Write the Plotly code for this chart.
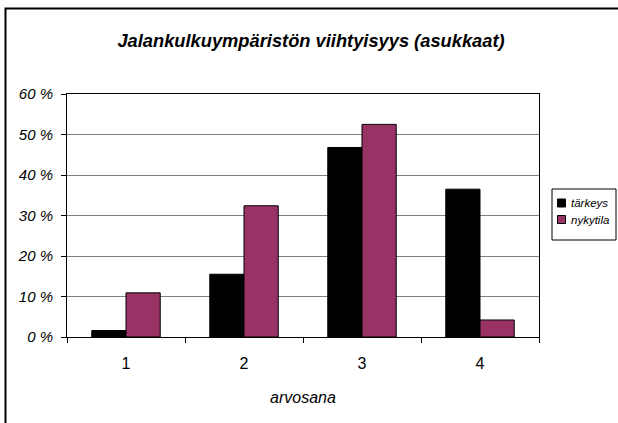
from plotly import graph_objects as go

CATEGORIES = ["1", "2", "3", "4"]
SERIES_NAMES = ["tärkeys", "nykytila"]
TARKEYS = [1.6, 15.5, 46.8, 36.5]
NYKYTILA = [10.9, 32.4, 52.5, 4.2]
Y_TICKS = [0, 10, 20, 30, 40, 50, 60]
Y_TICK_LABELS = [f"{v} %" for v in Y_TICKS]

BLACK = "#000000"
PLUM = "#993366"
GRID = "#808080"
FONT = "Liberation Sans, Arial, sans-serif"
SERIES_COLORS = [BLACK, PLUM]
CONFIG = {"displayModeBar": False}

W, H = 618, 423
L, R, T, B = 67, 79, 94, 86
PW, PH = W - L - R, H - T - B


def px_x(p):
    # pixel column -> paper x
    return (p - L) / PW


def px_y(p):
    # pixel row -> paper y
    return (H - B - p) / PH


fig = go.Figure()
for name, vals, color in zip(SERIES_NAMES, [TARKEYS, NYKYTILA], SERIES_COLORS):
    fig.add_bar(
        x=CATEGORIES, y=vals, name=name,
        marker=dict(color=color, line=dict(color=BLACK, width=1)),
    )

fig.update_xaxes(
    type="category",
    tickson="boundaries",
    ticks="outside",
    ticklen=5,
    tickcolor=BLACK,
    ticklabelstandoff=12,
    showline=True,
    linecolor=BLACK,
    mirror=True,
    showgrid=False,
    tickfont=dict(size=16, color=BLACK),
    title=dict(text="<i>arvosana</i>", font=dict(size=16, color=BLACK), standoff=20),
)
fig.update_yaxes(
    range=[0, 60],
    tickvals=Y_TICKS,
    ticktext=[f"<i>{t}</i>" for t in Y_TICK_LABELS],
    ticks="outside",
    ticklen=5,
    tickcolor=BLACK,
    ticklabelstandoff=5,
    showline=True,
    linecolor=BLACK,
    mirror=True,
    showgrid=True,
    gridcolor=GRID,
    gridwidth=1,
    zeroline=False,
    tickfont=dict(size=15, color=BLACK),
)

# chart frame + hand-drawn legend box, Excel style
shapes = [
    dict(
        type="rect", xref="paper", yref="paper",
        x0=px_x(5.5), x1=px_x(630), y0=px_y(435), y1=px_y(8.5),
        line=dict(color=BLACK, width=2), fillcolor="rgba(0,0,0,0)",
    ),
    dict(
        type="rect", xref="paper", yref="paper",
        x0=px_x(552), x1=px_x(616), y0=px_y(240), y1=px_y(189),
        line=dict(color=BLACK, width=1), fillcolor="white",
    ),
]
annotations = []
for i, (name, color) in enumerate(zip(SERIES_NAMES, SERIES_COLORS)):
    cy = 203 + 16.5 * i
    shapes.append(dict(
        type="rect", xref="paper", yref="paper",
        x0=px_x(557.5), x1=px_x(565.5), y0=px_y(cy + 4), y1=px_y(cy - 4),
        line=dict(color=BLACK, width=1), fillcolor=color,
    ))
    annotations.append(dict(
        xref="paper", yref="paper", x=px_x(569), y=px_y(cy),
        xanchor="left", yanchor="middle", showarrow=False,
        text=f"<i>{name}</i>", font=dict(size=11.5, color=BLACK),
    ))

fig.update_layout(
    width=W,
    height=H,
    barmode="group",
    bargap=0.42,
    bargroupgap=0,
    font_family=FONT,
    plot_bgcolor="white",
    paper_bgcolor="white",
    margin=dict(l=L, r=R, t=T, b=B, autoexpand=False),
    title=dict(
        text="<b><i>Jalankulkuympäristön viihtyisyys (asukkaat)</i></b>",
        font=dict(size=18.3, color=BLACK),
        x=311 / W, xanchor="center", y=1 - 41 / H, yanchor="middle",
    ),
    showlegend=False,
    shapes=shapes,
    annotations=annotations,
)

fig.write_html(
    "out.html",
    config=CONFIG,
    post_script="document.body.style.margin='0';",
)
